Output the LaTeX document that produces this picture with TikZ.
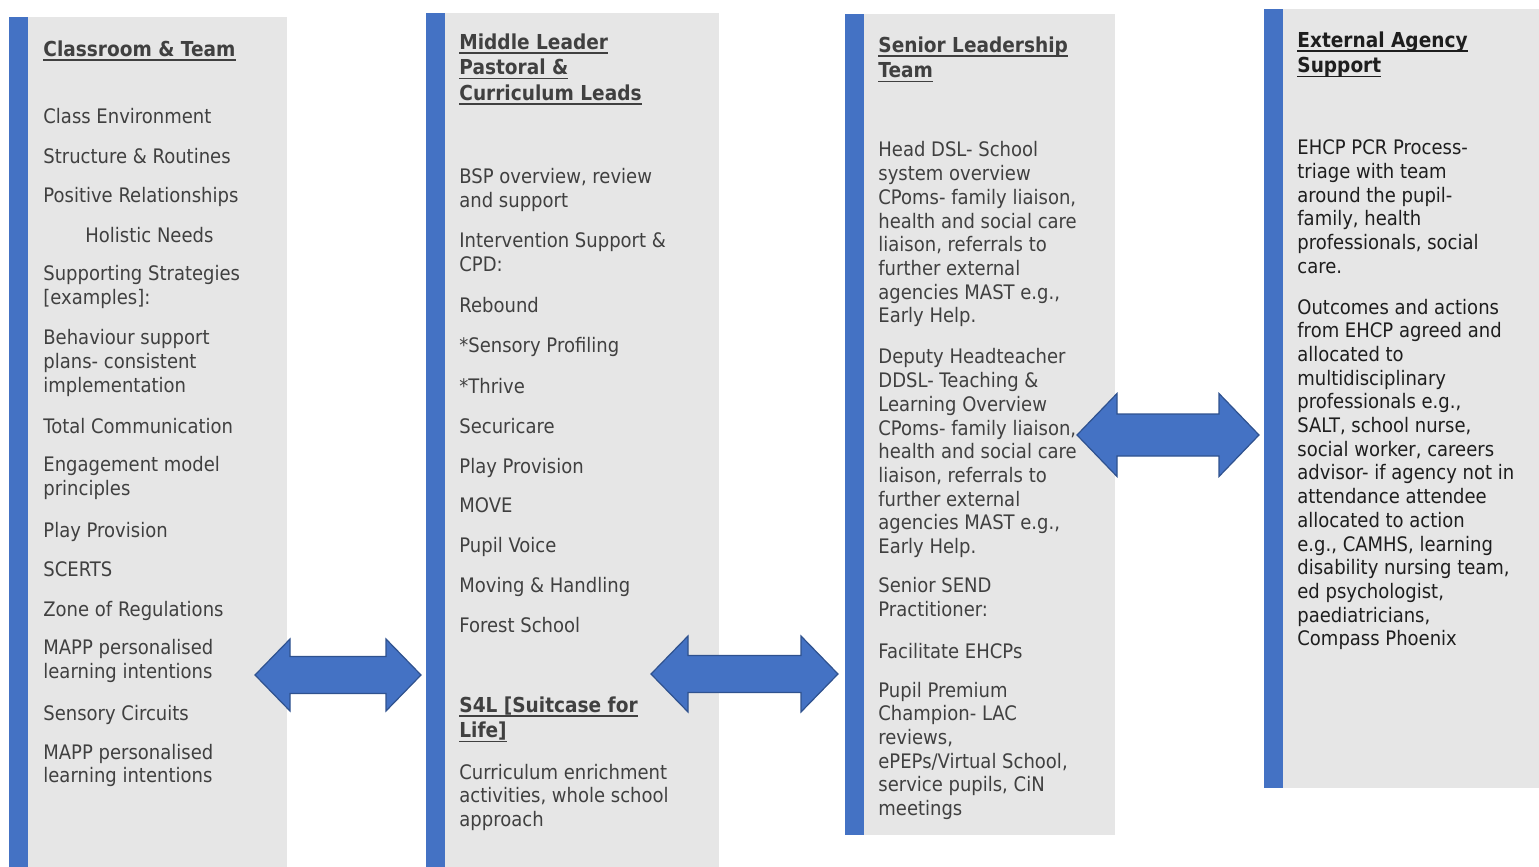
\documentclass[tikz,border=0pt]{standalone}
\usepackage{fontspec}
\setmainfont{DejaVu Sans}[FakeStretch=0.9]

\definecolor{barblue}{HTML}{4472C4}
\definecolor{arrowedge}{HTML}{2F528F}
\definecolor{panelgrey}{HTML}{E6E6E6}
\definecolor{txt}{HTML}{404040}
\definecolor{txtdark}{HTML}{1E1E1E}
\newcommand\hd[1]{\setbox0\hbox{#1}\rlap{\rule[-2.3pt]{\wd0}{0.9pt}}\box0}

\begin{document}
\begin{tikzpicture}[
            x = 0.5pt, y = -0.5pt,
            item/.style = {anchor = north west, align = left, inner sep = 0pt, text = txt,
                           font = \fontsize{10}{11.85}\selectfont,
                           execute at begin node = \strut, yshift = 7.3pt},
            head/.style = {item, font = \fontsize{10.3}{12.8}\selectfont\bfseries, yshift = 0.6pt},
            blockarrow/.style = {fill = barblue, draw = arrowedge, line width = 0.6pt, line join = miter}
            ]
            \useasboundingbox (0,0) rectangle (1539,867);
            % panels
            \foreach \xl/\xr/\yt/\yb in {9/287/17/867, 426/719/13/867, 845/1115/14/835, 1264/1539/9/788}
            {
              \fill[panelgrey] (\xl,\yt) rectangle (\xr,\yb);
              \fill[barblue] (\xl,\yt) rectangle ({\xl+19},\yb);
            }
            % arrows
            \foreach \xa/\xb/\yc/\hw/\sw/\hl in {255/421/675/36/18.5/35, 651/838/674/38/18.5/37, 1077/1259/435/41.5/21/40}
              \draw[blockarrow] (\xa,\yc) -- ++(\hl,-\hw) -- ++(0,{\hw-\sw}) -- ({\xb-\hl},{\yc-\sw})
                    -- ++(0,{\sw-\hw}) -- (\xb,\yc) -- ({\xb-\hl},{\yc+\hw}) -- ++(0,{\sw-\hw})
                    -- ({\xa+\hl},{\yc+\sw}) -- ++(0,{\hw-\sw}) -- cycle;

            % classroom and team
            \node[head] (ct) at (43,54) {\hd{Classroom \& Team}};
            \node[item] (c1) at (43,121) {Class Environment};
            \node[item] (c2) at (43,161) {Structure \& Routines};
            \node[item] (c3) at (43,200) {Positive Relationships};
            \node[item] (c4) at (85,240) {Holistic Needs};
            \node[item] (c5) at (43,280) {Supporting Strategies\\{[examples]}:};
            \node[item] (c6) at (43,344) {Behaviour support\\plans- consistent\\implementation};
            \node[item] (c7) at (43,431) {Total Communication};
            \node[item] (c8) at (43,471) {Engagement model\\principles};
            \node[item] (c9) at (43,535) {Play Provision};
            \node[item] (c10) at (43,574) {SCERTS};
            \node[item] (c11) at (43,614) {Zone of Regulations};
            \node[item] (c12) at (43,654) {MAPP personalised\\learning intentions};
            \node[item] (c13) at (43,718) {Sensory Circuits};
            \node[item] (c14) at (43,758) {MAPP personalised\\learning intentions};

            % middle leaders
            \node[head] (mt) at (459,49) {\hd{Middle Leader}\\\hd{Pastoral \&}\\\hd{Curriculum Leads}};
            \node[item] (m1) at (459,183) {BSP overview, review\\and support};
            \node[item] (m2) at (459,247) {Intervention Support \&\\CPD:};
            \node[item] (m3) at (459,310) {Rebound};
            \node[item] (m4) at (459,350) {*Sensory Profiling};
            \node[item] (m5) at (459,391) {*Thrive};
            \node[item] (m6) at (459,431) {Securicare};
            \node[item] (m7) at (459,471) {Play Provision};
            \node[item] (m8) at (459,510) {MOVE};
            \node[item] (m9) at (459,550) {Pupil Voice};
            \node[item] (m10) at (459,590) {Moving \& Handling};
            \node[item] (m11) at (459,630) {Forest School};
            \node[head] (st) at (459,712) {\hd{S4L [Suitcase for}\\\hd{Life]}};
            \node[item] (s1) at (459,778) {Curriculum enrichment\\activities, whole school\\approach};

            % senior leadership
            \node[head] (lt) at (878,52) {\hd{Senior Leadership}\\\hd{Team}};
            \node[item] (l1) at (878,156) {Head DSL- School\\system overview\\CPoms- family liaison,\\health and social care\\liaison, referrals to\\further external\\agencies MAST e.g.,\\Early Help.};
            \node[item] (l2) at (878,363) {Deputy Headteacher\\DDSL- Teaching \&\\Learning Overview\\CPoms- family liaison,\\health and social care\\liaison, referrals to\\further external\\agencies MAST e.g.,\\Early Help.};
            \node[item] (l3) at (878,592) {Senior SEND\\Practitioner:};
            \node[item] (l4) at (878,656) {Facilitate EHCPs};
            \node[item] (l5) at (878,696) {Pupil Premium\\Champion- LAC\\reviews,\\ePEPs/Virtual School,\\service pupils, CiN\\meetings};

            % external agencies
            \node[head, text = txtdark] (et) at (1297,47) {\hd{External Agency}\\\hd{Support}};
            \node[item, text = txtdark] (e1) at (1297,154) {EHCP PCR Process-\\triage with team\\around the pupil-\\family, health\\professionals, social\\care.};
            \node[item, text = txtdark] (e2) at (1297,313) {Outcomes and actions\\from EHCP agreed and\\allocated to\\multidisciplinary\\professionals e.g.,\\SALT, school nurse,\\social worker, careers\\advisor- if agency not in\\attendance attendee\\allocated to action\\e.g., CAMHS, learning\\disability nursing team,\\ed psychologist,\\paediatricians,\\Compass Phoenix};
          \end{tikzpicture}
\end{document}
